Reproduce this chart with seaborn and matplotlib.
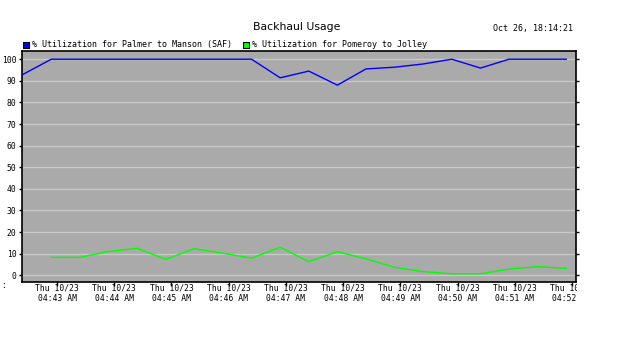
import matplotlib
matplotlib.use("Agg")
import matplotlib.pyplot as plt
import seaborn as sns
import pandas as pd
import numpy as np
from matplotlib.patches import Rectangle
from matplotlib.transforms import Bbox

# ---- data ----
times = ["04:42:24", "04:42:54", "04:43:24", "04:43:54", "04:44:24", "04:44:54",
         "04:45:24", "04:45:54", "04:46:24", "04:46:54", "04:47:24", "04:47:54",
         "04:48:24", "04:48:54", "04:49:24", "04:49:54", "04:50:24", "04:50:54",
         "04:51:24", "04:51:54"]
palmer_manson = [92.9, 100, 100, 100, 100, 100, 100, 100, 100, 91.4,
                 94.5, 88.0, 95.5, 96.3, 97.8, 100, 95.9, 100, 100, 100]
pomeroy_jolley = [np.nan, 8.3, 8.3, 11.0, 12.5, 7.4, 12.3, 10.2, 7.9, 13.0,
                  6.3, 10.9, 7.6, 3.7, 1.7, 0.7, 0.7, 2.9, 4.0, 3.2]
series_names = ["% Utilization for Palmer to Manson (SAF)",
                "% Utilization for Pomeroy to Jolley"]
series_colors = ["#0000FF", "#00FF00"]
tick_times = ["04:43", "04:44", "04:45", "04:46", "04:47", "04:48",
              "04:49", "04:50", "04:51", "04:52"]
tick_date = "Thu 10/23"
y_ticks = [0, 10, 20, 30, 40, 50, 60, 70, 80, 90, 100]
title = "Backhaul Usage"
stamp = "Oct 26, 18:14:21"

def to_sec(s):
    parts = [int(p) for p in s.split(":")]
    while len(parts) < 3:
        parts.append(0)
    h, m, sec = parts
    return (h * 3600 + m * 60 + sec) - (4 * 3600 + 43 * 60)

x = [to_sec(t) for t in times]
df = pd.concat([
    pd.DataFrame({"t": x, "v": palmer_manson, "s": series_names[0]}),
    pd.DataFrame({"t": x, "v": pomeroy_jolley, "s": series_names[1]}),
]).dropna()

W, H = 626, 343
fig = plt.figure(figsize=(W / 100, H / 100), dpi=100, facecolor="white")
ax = fig.add_axes([22 / W, (H - 282) / H, (576 - 22) / W, (282 - 51) / H])
ax.set_facecolor("#AAAAAA")

mono = "DejaVu Sans Mono"
for yv in y_ticks:
    ax.axhline(yv, color="#C8C8C8", lw=1.0, zorder=0.5)

sns.lineplot(data=df, x="t", y="v", hue="s", hue_order=series_names,
             palette=series_colors, lw=1.0, legend=False, ax=ax, zorder=3)

ax.set_xlim(-36.7, 544.2)
ax.set_ylim(-3.1, 103.8)
ax.set_xlabel("")
ax.set_ylabel("")

ax.set_yticks(y_ticks)
ax.set_yticklabels([str(v) for v in y_ticks], fontsize=5.8, family=mono)
ax.tick_params(axis="y", which="both", length=2.5, width=1, pad=1.5,
               right=True, left=True, direction="out", colors="black")
xt = [to_sec(t) for t in tick_times]
ax.set_xticks(xt)
ax.set_xticklabels([f"{tick_date}\n{t} AM" for t in tick_times],
                   fontsize=5.8, family=mono, linespacing=1.3)
ax.tick_params(axis="x", length=3, width=1, pad=-2.0, direction="out", colors="black")
for sp in ax.spines.values():
    sp.set_color("black")
    sp.set_linewidth(1.2)
ax.grid(False)

# clip tick labels at the plot's right edge (as in reference)
clip = Bbox.from_extents(0, 0, 577, H)
for lbl in ax.get_xticklabels():
    lbl.set_clip_box(clip)
    lbl.set_clip_on(True)

# title and timestamp
fig.text(297 / W, 1 - 27 / H, title, ha="center", va="center",
         fontsize=7.8, family="DejaVu Sans")
fig.text(573 / W, 1 - 29 / H, stamp, ha="right", va="center",
         fontsize=6, family=mono)

# legend
leg_x = [23, 243]
for lx, name, col in zip(leg_x, series_names, series_colors):
    fig.patches.append(Rectangle((lx / W, 1 - 48 / H), 6 / W, 6 / H,
                                 transform=fig.transFigure, facecolor=col,
                                 edgecolor="black", lw=0.8))
    fig.text((lx + 9) / W, 1 - 44.5 / H, name, ha="left", va="center",
             fontsize=6, family=mono)

fig.text(1 / W, 1 - 286 / H, ":", ha="left", va="center", fontsize=5.8, family=mono)

fig.savefig("out.png", dpi=100, facecolor="white")
